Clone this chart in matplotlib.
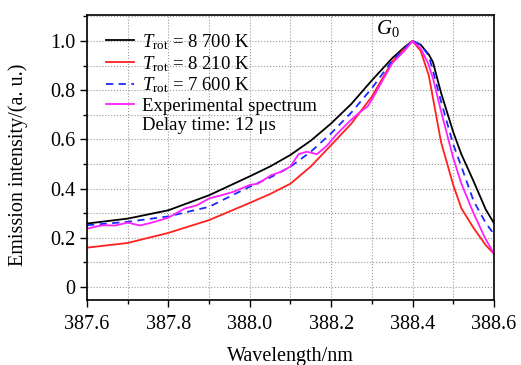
import matplotlib
matplotlib.use("Agg")
import matplotlib.pyplot as plt
from matplotlib.lines import Line2D
from matplotlib.ticker import MultipleLocator, FuncFormatter

plt.rcParams['font.family'] = ['Liberation Serif', 'DejaVu Serif']
plt.rcParams['mathtext.fontset'] = 'custom'
plt.rcParams['mathtext.rm'] = 'Liberation Serif'
plt.rcParams['mathtext.it'] = 'Liberation Serif:italic'

# simulated spectra
wl_sim = [387.6, 387.7, 387.8, 387.9, 388.0, 388.05, 388.1, 388.15, 388.2, 388.25,
          388.3, 388.35, 388.38, 388.4, 388.42, 388.44, 388.45, 388.47, 388.5, 388.52,
          388.55, 388.58, 388.6]
t8700 = [0.258, 0.278, 0.312, 0.373, 0.45, 0.49, 0.537, 0.595, 0.665, 0.745,
         0.84, 0.93, 0.975, 1.0, 0.985, 0.945, 0.915, 0.79, 0.63, 0.54,
         0.43, 0.315, 0.26]
t8210 = [0.160, 0.179, 0.220, 0.272, 0.342, 0.378, 0.42, 0.49, 0.577, 0.665,
         0.774, 0.916, 0.97, 1.0, 0.96, 0.86, 0.77, 0.59, 0.415, 0.32,
         0.24, 0.17, 0.135]
t7600 = [0.251, 0.265, 0.287, 0.326, 0.408, 0.445, 0.489, 0.55, 0.625, 0.71,
         0.808, 0.92, 0.97, 1.0, 0.985, 0.94, 0.88, 0.755, 0.58, 0.49,
         0.35, 0.26, 0.215]

# experimental spectrum, delay 12 us
wl_exp = [387.6, 387.62, 387.64, 387.67, 387.7, 387.73, 387.76, 387.8, 387.84, 387.87,
          387.9, 387.93, 387.96, 388.0, 388.02, 388.053, 388.08, 388.1, 388.12, 388.14,
          388.165, 388.19, 388.213, 388.246, 388.27, 388.29, 388.303, 388.328, 388.35, 388.38,
          388.4, 388.42, 388.438, 388.45, 388.47, 388.5, 388.52, 388.55, 388.578, 388.6]
exp12 = [0.237, 0.245, 0.251, 0.25, 0.262, 0.25, 0.262, 0.282, 0.319, 0.332,
         0.36, 0.373, 0.387, 0.415, 0.42, 0.455, 0.47, 0.49, 0.54, 0.55,
         0.54, 0.575, 0.62, 0.675, 0.71, 0.735, 0.77, 0.845, 0.91, 0.96,
         1.0, 0.97, 0.91, 0.85, 0.715, 0.525, 0.42, 0.30, 0.2, 0.135]

fig = plt.figure(figsize=(5.21, 3.65), dpi=100)
ax = fig.add_axes([0.167, 0.178, 0.781, 0.781])

ax.plot(wl_sim, t8700, color='black', lw=1.3, label=r'$T_{\rm rot}$ = 8 700 K')
ax.plot(wl_sim, t8210, color='#ff2020', lw=1.3, label=r'$T_{\rm rot}$ = 8 210 K')
ax.plot(wl_sim, t7600, color='#1a2aff', lw=1.3, ls=(0, (4, 3)), label=r'$T_{\rm rot}$ = 7 600 K')
ax.plot(wl_exp, exp12, color='#ff20ff', lw=1.3, label='Experimental spectrum')

handles, labels = ax.get_legend_handles_labels()
handles.append(Line2D([], [], color='none'))
labels.append('Delay time: 12 μs')
ax.legend(handles, labels, loc='upper left', frameon=False, fontsize=13.5,
          handlelength=1.5, handletextpad=0.45, labelspacing=0.12,
          borderaxespad=0.0, bbox_to_anchor=(0.028, 0.967))

ax.text(388.34, 1.05, r'$G_0$', fontsize=15, ha='center', va='center')

ax.set_xlim(387.6, 388.6)
ax.set_ylim(-0.053, 1.106)
ax.xaxis.set_major_locator(MultipleLocator(0.2))
ax.xaxis.set_minor_locator(MultipleLocator(0.1))
ax.yaxis.set_major_locator(MultipleLocator(0.2))
ax.yaxis.set_minor_locator(MultipleLocator(0.1))
ax.yaxis.set_major_formatter(FuncFormatter(lambda v, p: '0' if abs(v) < 1e-9 else f'{v:.1f}'))
ax.tick_params(which='major', length=5, width=1, labelsize=14.5, direction='out')
ax.tick_params(axis='x', which='major', pad=6)
ax.tick_params(which='minor', length=3, width=1, direction='out')
ax.grid(which='both', ls=':', color='#999999', lw=0.8)
for s in ax.spines.values():
    s.set_linewidth(1.2)

ax.set_xlabel('Wavelength/nm', fontsize=14.5, labelpad=9)
ax.set_ylabel('Emission intensity/(a. u.)', fontsize=14.5)
ax.yaxis.set_label_coords(-0.145, 0.474)

fig.savefig('out.png', dpi=100)
